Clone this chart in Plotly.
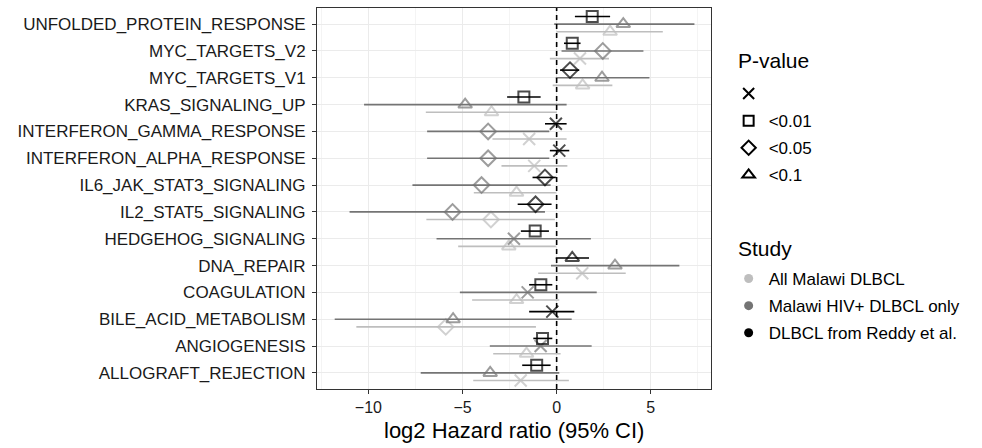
import plotly.graph_objects as go

pathways = [
    "UNFOLDED_PROTEIN_RESPONSE", "MYC_TARGETS_V2", "MYC_TARGETS_V1", "KRAS_SIGNALING_UP",
    "INTERFERON_GAMMA_RESPONSE", "INTERFERON_ALPHA_RESPONSE", "IL6_JAK_STAT3_SIGNALING",
    "IL2_STAT5_SIGNALING", "HEDGEHOG_SIGNALING", "DNA_REPAIR", "COAGULATION",
    "BILE_ACID_METABOLISM", "ANGIOGENESIS", "ALLOGRAFT_REJECTION",
]

# DLBCL from Reddy et al.
reddy_est = [1.89, 0.83, 0.71, -1.74, -0.04, 0.14, -0.62, -1.12, -1.14, 0.83, -0.84, -0.23, -0.75, -1.06]
reddy_lo = [0.97, 0.39, 0.18, -2.63, -0.62, -0.36, -1.28, -2.07, -1.90, -0.05, -1.46, -1.46, -1.24, -1.83]
reddy_hi = [2.84, 1.27, 1.20, -0.85, 0.53, 0.67, -0.04, -0.27, -0.41, 1.72, -0.23, 0.94, -0.23, -0.32]
reddy_p = ["<0.01", "<0.01", "<0.05", "<0.01", "", "", "<0.05", "<0.05", "<0.01", "<0.1", "<0.01", "", "<0.01", "<0.01"]

# Malawi HIV+ DLBCL only
hiv_est = [3.54, 2.45, 2.41, -4.86, -3.64, -3.64, -3.99, -5.53, -2.27, 3.10, -1.54, -5.50, -0.85, -3.53]
hiv_lo = [-0.13, 0.26, -0.05, -10.23, -6.88, -6.88, -7.66, -11.00, -6.38, -0.30, -5.14, -11.79, -3.55, -7.22]
hiv_hi = [7.32, 4.61, 4.93, 0.53, -0.39, -0.39, -0.32, -0.62, 1.82, 6.52, 2.13, 0.80, 1.86, 0.14]
hiv_p = ["<0.1", "<0.05", "<0.1", "<0.1", "<0.05", "<0.05", "<0.05", "<0.05", "", "<0.1", "", "<0.1", "", "<0.1"]

# All Malawi DLBCL
all_est = [2.84, 1.24, 1.38, -3.46, -1.46, -1.19, -2.13, -3.49, -2.54, 1.36, -2.13, -5.89, -1.60, -1.91]
all_lo = [0.00, -0.36, -0.21, -6.95, -3.41, -2.93, -4.40, -6.92, -5.23, -0.98, -4.49, -10.64, -3.37, -4.43]
all_hi = [5.64, 2.78, 2.96, 0.00, 0.53, 0.57, -0.04, -0.09, -0.04, 3.67, 0.14, -1.10, 0.21, 0.65]
all_p = ["<0.1", "", "<0.1", "<0.1", "", "", "<0.1", "<0.05", "<0.1", "", "<0.1", "<0.05", "<0.1", ""]

p_levels = ["", "<0.01", "<0.05", "<0.1"]
study_names = ["All Malawi DLBCL", "Malawi HIV+ DLBCL only", "DLBCL from Reddy et al."]

symbol_map = {"": "x-thin-open", "<0.01": "square-open", "<0.05": "diamond-open", "<0.1": "triangle-up-open"}
size_map = {"": 12, "<0.01": 11, "<0.05": 12, "<0.1": 12}
colors = {"All Malawi DLBCL": "#BEBEBE", "Malawi HIV+ DLBCL only": "#747474", "DLBCL from Reddy et al.": "#000000"}
dodge = {"All Malawi DLBCL": -0.285, "Malawi HIV+ DLBCL only": 0.0, "DLBCL from Reddy et al.": 0.285}

n = len(pathways)
ypos = [n - i for i in range(n)]

FONT = "Liberation Sans, Arial, Helvetica, sans-serif"
fig = go.Figure()

series = [
    ("All Malawi DLBCL", all_est, all_lo, all_hi, all_p),
    ("Malawi HIV+ DLBCL only", hiv_est, hiv_lo, hiv_hi, hiv_p),
    ("DLBCL from Reddy et al.", reddy_est, reddy_lo, reddy_hi, reddy_p),
]

for name, est, lo, hi, pv in series:
    col = colors[name]
    y = [yy + dodge[name] for yy in ypos]
    fig.add_trace(go.Scatter(
        x=est, y=y, mode="markers", showlegend=False,
        error_x=dict(type="data", symmetric=False,
                     array=[h - e for h, e in zip(hi, est)],
                     arrayminus=[e - l for e, l in zip(est, lo)],
                     color=col, thickness=1.6, width=0),
        marker=dict(symbol=[symbol_map[p] for p in pv], size=[size_map[p] for p in pv],
                    color=col, line=dict(color=col, width=2)),
        hoverinfo="skip",
    ))

# legend entries: P-value (each in its own group so tracegroupgap spaces them)
for i, p in enumerate(p_levels):
    fig.add_trace(go.Scatter(
        x=[None], y=[None], mode="markers", name=p if p else " ",
        marker=dict(symbol=symbol_map[p], size=size_map[p] - 1, color="black",
                    line=dict(color="black", width=2)),
        legend="legend", legendgroup=f"p{i}",
    ))
# legend entries: Study
for i, s in enumerate(study_names):
    fig.add_trace(go.Scatter(
        x=[None], y=[None], mode="markers", name=s,
        marker=dict(symbol="circle", size=9, color=colors[s]),
        legend="legend2", legendgroup=f"s{i}",
    ))

fig.add_vline(x=0, line_dash="5px,4px", line_color="black", line_width=1.6)

fig.add_annotation(
    text="log2 Hazard ratio (95% CI)", xref="paper", yref="paper",
    x=0.5, y=-0.110, xanchor="center", yanchor="middle",
    showarrow=False, font=dict(size=22, color="black"),
)
fig.add_annotation(
    text="P-value", xref="paper", yref="paper",
    x=1.0635, y=0.8635, xanchor="left", yanchor="middle",
    showarrow=False, font=dict(size=21, color="black"),
)
fig.add_annotation(
    text="Study", xref="paper", yref="paper",
    x=1.0635, y=0.370, xanchor="left", yanchor="middle",
    showarrow=False, font=dict(size=21, color="black"),
)

fig.update_layout(
    width=982, height=448,
    margin=dict(l=317, r=271, t=8, b=59, autoexpand=False),
    paper_bgcolor="white", plot_bgcolor="white",
    font=dict(family=FONT, color="black"),
    legend=dict(
        font=dict(size=17), xref="container", yref="container",
        x=0.742, y=1 - 76 / 448, xanchor="left", yanchor="top",
        bgcolor="rgba(0,0,0,0)", itemclick=False, tracegroupgap=2,
    ),
    legend2=dict(
        font=dict(size=17), xref="container", yref="container",
        x=0.742, y=1 - 261 / 448, xanchor="left", yanchor="top",
        bgcolor="rgba(0,0,0,0)", itemclick=False, tracegroupgap=2,
    ),
)

fig.update_xaxes(
    range=[-12.73, 8.2], tickmode="linear", tick0=0, dtick=5,
    showgrid=True, gridcolor="#EBEBEB", gridwidth=1,
    minor=dict(dtick=2.5, tick0=0, showgrid=True, gridcolor="#F4F4F4", gridwidth=0.6),
    zeroline=False, showline=True, mirror=True, linecolor="#333333", linewidth=1,
    ticks="outside", ticklen=4, tickcolor="#333333",
    tickfont=dict(size=16, color="#1a1a1a"), automargin=False,
)
fig.update_yaxes(
    range=[0.4, n + 0.6], tickmode="array", tickvals=ypos, ticktext=pathways,
    showgrid=True, gridcolor="#EBEBEB", gridwidth=1,
    zeroline=False, showline=True, mirror=True, linecolor="#333333", linewidth=1,
    ticks="outside", ticklen=4, tickcolor="#333333", ticklabelstandoff=3,
    tickfont=dict(size=17, color="#1a1a1a"), automargin=False,
)

fig.write_html("out.html", config={"displayModeBar": False},
               post_script="document.body.style.margin='0px';")
